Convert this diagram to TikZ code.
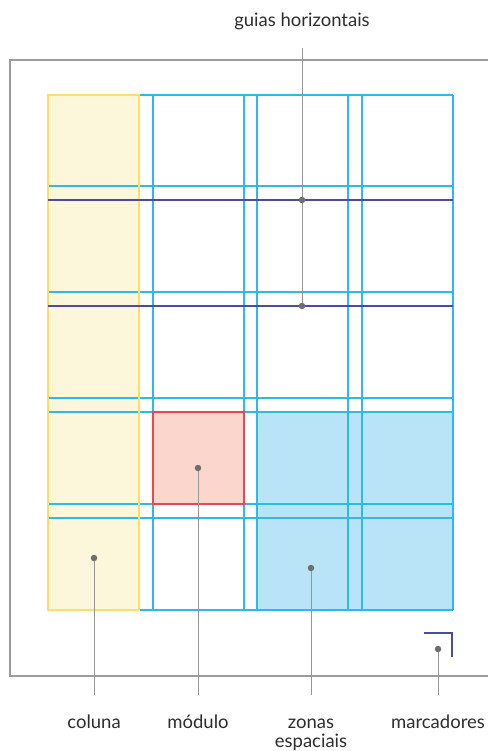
\documentclass[tikz,border=0pt]{standalone}
\usepackage{fontspec}
\setmainfont{Lato}
\definecolor{gridc}{RGB}{45,185,235}
\definecolor{guidec}{RGB}{75,75,160}
\definecolor{yelb}{RGB}{255,222,100}
\definecolor{yelf}{RGB}{252,246,218}
\definecolor{pinkf}{RGB}{250,214,204}
\definecolor{redb}{RGB}{232,72,78}
\definecolor{zonef}{RGB}{185,228,248}
\definecolor{framec}{RGB}{155,155,155}
\definecolor{connc}{RGB}{150,150,150}
\definecolor{dotc}{RGB}{110,110,110}
\definecolor{txtc}{RGB}{45,45,45}
\begin{document}
\begin{tikzpicture}[x=1pt,y=-1pt,
  gridl/.style={draw=gridc,line width=1.25pt},
  guidel/.style={draw=guidec,line width=1.8pt},
  conn/.style={draw=connc,line width=1pt},
  dotn/.style={circle,fill=dotc,inner sep=0pt,minimum size=6.5pt},
  lbl/.style={font=\fontsize{18.5}{19}\selectfont,text=txtc,inner sep=0pt,align=center,anchor=base}]
\useasboundingbox (0,0) rectangle (488,751);
% frame
\draw[draw=framec,line width=1.2pt] (488,60) -- (10,60) -- (10,676) -- (488,676);
% fills
\fill[yelf] (48,95) rectangle (139,610);
\fill[zonef] (257,412) rectangle (453,610);
\fill[pinkf] (153,412) rectangle (244,504);
% grid
\foreach \x in {153,244,257,348,362,453} \draw[gridl] (\x,95) -- (\x,610);
\draw[gridl] (139,95) -- (453,95);
\draw[gridl] (139,610) -- (453,610);
\foreach \y in {186,292,398,412,504,518} \draw[gridl] (48,\y) -- (453,\y);
% yellow column border
\draw[draw=yelb,line width=1.4pt] (48,95) rectangle (139,610);
% module border
\draw[draw=redb,line width=1.6pt] (153,412) rectangle (244,504);
% horizontal guides
\draw[guidel] (48,200) -- (453,200);
\draw[guidel] (48,306) -- (453,306);
% marker
\draw[draw=guidec,line width=1.6pt] (424,633) -- (452,633) -- (452,657);
% labels
\node[lbl] (lguias) at (302,27) {guias horizontais};
\node[lbl] (lcol) at (94,728) {coluna};
\node[lbl] (lmod) at (198,728) {módulo};
\node[lbl] (lzon) at (311,747) {zonas\\espaciais};
\node[lbl] (lmar) at (438,728) {marcadores};
% connector ends
\coordinate (tguias) at (302,48);
\coordinate (tcol) at (94,695);
\coordinate (tmod) at (198,695);
\coordinate (tzon) at (311,695);
\coordinate (tmar) at (438,695);
% dots
\node[dotn] (dg1) at (302,200) {};
\node[dotn] (dg2) at (302,306) {};
\node[dotn] (dcol) at (94,558) {};
\node[dotn] (dmod) at (198,468) {};
\node[dotn] (dzon) at (311,568) {};
\node[dotn] (dmar) at (438,649) {};
% connectors
\draw[conn] (tguias) -- (dg1) -- (dg2);
\draw[conn] (dcol) -- (tcol);
\draw[conn] (dmod) -- (tmod);
\draw[conn] (dzon) -- (tzon);
\draw[conn] (dmar) -- (tmar);
\end{tikzpicture}
\end{document}
